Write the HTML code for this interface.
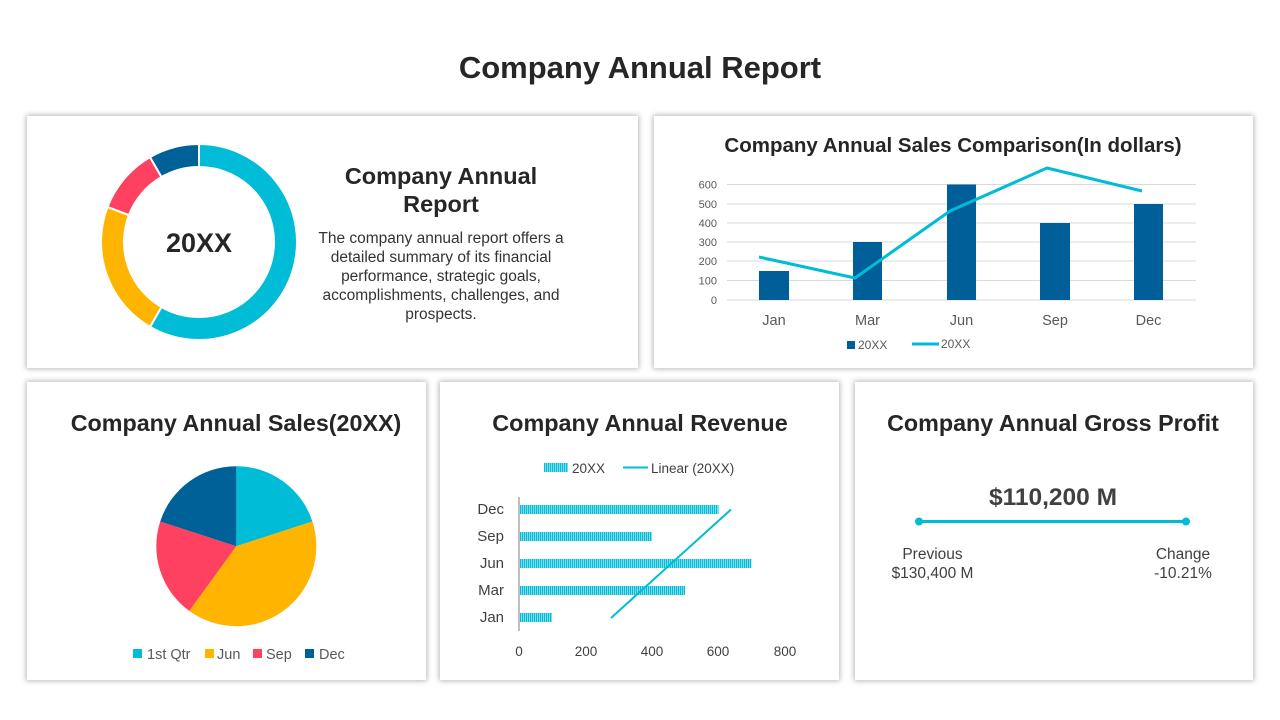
<!DOCTYPE html>
<html><head><meta charset="utf-8"><style>
html,body{margin:0;padding:0;background:#fff;}
body{width:1280px;height:720px;position:relative;overflow:hidden;font-family:"Liberation Sans",sans-serif;}
.card{position:absolute;background:#fff;box-shadow:0 0 5px 1px rgba(0,0,0,0.28);}
svg{position:absolute;left:0;top:0;}
</style></head><body>
<div class="card" style="left:27px;top:116px;width:611px;height:252px;"></div>
<div class="card" style="left:654px;top:116px;width:599px;height:252px;"></div>
<div class="card" style="left:27px;top:382px;width:399px;height:298px;"></div>
<div class="card" style="left:440px;top:382px;width:399px;height:298px;"></div>
<div class="card" style="left:855px;top:382px;width:398px;height:298px;"></div>
<svg width="1280" height="720" viewBox="0 0 1280 720" font-family="Liberation Sans, sans-serif">
<defs>
<pattern id="hatch" width="2" height="10" patternUnits="userSpaceOnUse">
<rect x="0" y="0" width="2" height="10" fill="#00BCD6"/>
<rect x="1" y="0" width="1" height="10" fill="#7fdcea"/>
</pattern>
</defs>
<text x="640" y="78" text-anchor="middle" font-size="31" font-weight="bold" fill="#262626">Company Annual Report</text>

<!-- Card 1 donut -->
<g stroke="#fff" stroke-width="2">
<path d="M199,144 A98,98 0 1 1 150,326.87 L161.5,306.95 A75,75 0 1 0 199,167 Z" fill="#00BCD6"/>
<path d="M150,326.87 A98,98 0 0 1 107.51,206.88 L128.98,215.12 A75,75 0 0 0 161.5,306.95 Z" fill="#FFB400"/>
<path d="M107.51,206.88 A98,98 0 0 1 150,157.13 L161.5,177.05 A75,75 0 0 0 128.98,215.12 Z" fill="#FF4161"/>
<path d="M150,157.13 A98,98 0 0 1 199,144 L199,167 A75,75 0 0 0 161.5,177.05 Z" fill="#006098"/>
</g>
<text x="199" y="252" text-anchor="middle" font-size="27" font-weight="bold" fill="#262626">20XX</text>
<text x="441" y="184" text-anchor="middle" font-size="23.5" font-weight="bold" fill="#262626">Company Annual</text>
<text x="441" y="212" text-anchor="middle" font-size="23.5" font-weight="bold" fill="#262626">Report</text>
<g font-size="15.5" fill="#333" text-anchor="middle">
<text x="441" y="243">The company annual report offers a</text>
<text x="441" y="262">detailed summary of its financial</text>
<text x="441" y="281">performance, strategic goals,</text>
<text x="441" y="300">accomplishments, challenges, and</text>
<text x="441" y="319">prospects.</text>
</g>

<!-- Card 2 combo chart -->
<text x="953" y="152" text-anchor="middle" font-size="20.5" font-weight="bold" fill="#262626">Company Annual Sales Comparison(In dollars)</text>
<g stroke="#d9d9d9" stroke-width="1">
<line x1="727" y1="184.5" x2="1196" y2="184.5"/>
<line x1="727" y1="204" x2="1196" y2="204"/>
<line x1="727" y1="223" x2="1196" y2="223"/>
<line x1="727" y1="242" x2="1196" y2="242"/>
<line x1="727" y1="261" x2="1196" y2="261"/>
<line x1="727" y1="280.5" x2="1196" y2="280.5"/>
<line x1="727" y1="300" x2="1196" y2="300"/>
</g>
<g font-size="11" fill="#595959" text-anchor="end">
<text x="717" y="188.5">600</text>
<text x="717" y="208">500</text>
<text x="717" y="227">400</text>
<text x="717" y="246">300</text>
<text x="717" y="265">200</text>
<text x="717" y="284.5">100</text>
<text x="717" y="304">0</text>
</g>
<g fill="#005F99">
<rect x="759" y="271" width="30" height="29"/>
<rect x="853" y="242" width="29" height="58"/>
<rect x="947" y="184.5" width="29" height="115.5"/>
<rect x="1040" y="223" width="30" height="77"/>
<rect x="1134" y="204" width="29" height="96"/>
</g>
<polyline points="759,257 855,278 950,211 1047,168 1142,191" fill="none" stroke="#00BCD6" stroke-width="3" stroke-linejoin="round"/>
<g font-size="14.5" fill="#595959" text-anchor="middle">
<text x="774" y="325">Jan</text>
<text x="867.5" y="325">Mar</text>
<text x="961.5" y="325">Jun</text>
<text x="1055" y="325">Sep</text>
<text x="1148.5" y="325">Dec</text>
</g>
<rect x="847" y="341" width="8" height="8" fill="#005F99"/>
<text x="858" y="349" font-size="12" fill="#595959">20XX</text>
<line x1="912" y1="344" x2="939" y2="344" stroke="#00BCD6" stroke-width="3"/>
<text x="941" y="348" font-size="12" fill="#595959">20XX</text>

<!-- Card 3 pie -->
<text x="236" y="431" text-anchor="middle" font-size="23.3" font-weight="bold" fill="#262626">Company Annual Sales(20XX)</text>
<path d="M236.3,546.2 L236.3,466.2 A80,80 0 0 1 312.39,521.48 Z" fill="#00BCD6"/>
<path d="M236.3,546.2 L312.39,521.48 A80,80 0 0 1 189.28,610.92 Z" fill="#FFB400"/>
<path d="M236.3,546.2 L189.28,610.92 A80,80 0 0 1 160.21,521.48 Z" fill="#FF4161"/>
<path d="M236.3,546.2 L160.21,521.48 A80,80 0 0 1 236.3,466.2 Z" fill="#006098"/>
<g font-size="14.5" fill="#595959">
<rect x="133" y="649" width="9" height="9" fill="#00BCD6"/>
<text x="147" y="659">1st Qtr</text>
<rect x="205" y="649" width="9" height="9" fill="#FFB400"/>
<text x="217" y="659">Jun</text>
<rect x="253" y="649" width="9" height="9" fill="#FF4161"/>
<text x="266" y="659">Sep</text>
<rect x="305" y="649" width="9" height="9" fill="#006098"/>
<text x="319" y="659">Dec</text>
</g>

<!-- Card 4 bar -->
<text x="640" y="431" text-anchor="middle" font-size="23.4" font-weight="bold" fill="#262626">Company Annual Revenue</text>
<rect x="544" y="463" width="24" height="9" fill="url(#hatch)"/>
<text x="572" y="473" font-size="13.5" fill="#404040">20XX</text>
<line x1="623" y1="467.5" x2="648" y2="467.5" stroke="#00BCD6" stroke-width="2"/>
<text x="651" y="473" font-size="13.5" fill="#404040">Linear (20XX)</text>
<g fill="url(#hatch)">
<rect x="520" y="505" width="198.5" height="9"/>
<rect x="520" y="532" width="132" height="9"/>
<rect x="520" y="559" width="231.5" height="9"/>
<rect x="520" y="586" width="165" height="9"/>
<rect x="520" y="613" width="32" height="9"/>
</g>
<line x1="519" y1="497" x2="519" y2="631" stroke="#bfbfbf" stroke-width="2"/>
<line x1="611" y1="618" x2="731" y2="509.5" stroke="#00BCD6" stroke-width="2"/>
<g font-size="15" fill="#404040" text-anchor="end">
<text x="504" y="514">Dec</text>
<text x="504" y="541">Sep</text>
<text x="504" y="568">Jun</text>
<text x="504" y="595">Mar</text>
<text x="504" y="622">Jan</text>
</g>
<g font-size="13.5" fill="#404040" text-anchor="middle">
<text x="519" y="656">0</text>
<text x="586" y="656">200</text>
<text x="652" y="656">400</text>
<text x="718" y="656">600</text>
<text x="785" y="656">800</text>
</g>

<!-- Card 5 -->
<text x="1053" y="431" text-anchor="middle" font-size="23.3" font-weight="bold" fill="#262626">Company Annual Gross Profit</text>
<text x="1053" y="505" text-anchor="middle" font-size="24.5" font-weight="bold" fill="#404040">$110,200 M</text>
<line x1="919" y1="521.5" x2="1186" y2="521.5" stroke="#00BCD6" stroke-width="3"/>
<circle cx="919" cy="521.5" r="4" fill="#00BCD6"/>
<circle cx="1186" cy="521.5" r="4" fill="#00BCD6"/>
<g font-size="15.5" fill="#404040" text-anchor="middle">
<text x="932.5" y="559">Previous</text>
<text x="932.5" y="578">$130,400 M</text>
<text x="1183" y="559">Change</text>
<text x="1183" y="578">-10.21%</text>
</g>
</svg>
</body></html>
